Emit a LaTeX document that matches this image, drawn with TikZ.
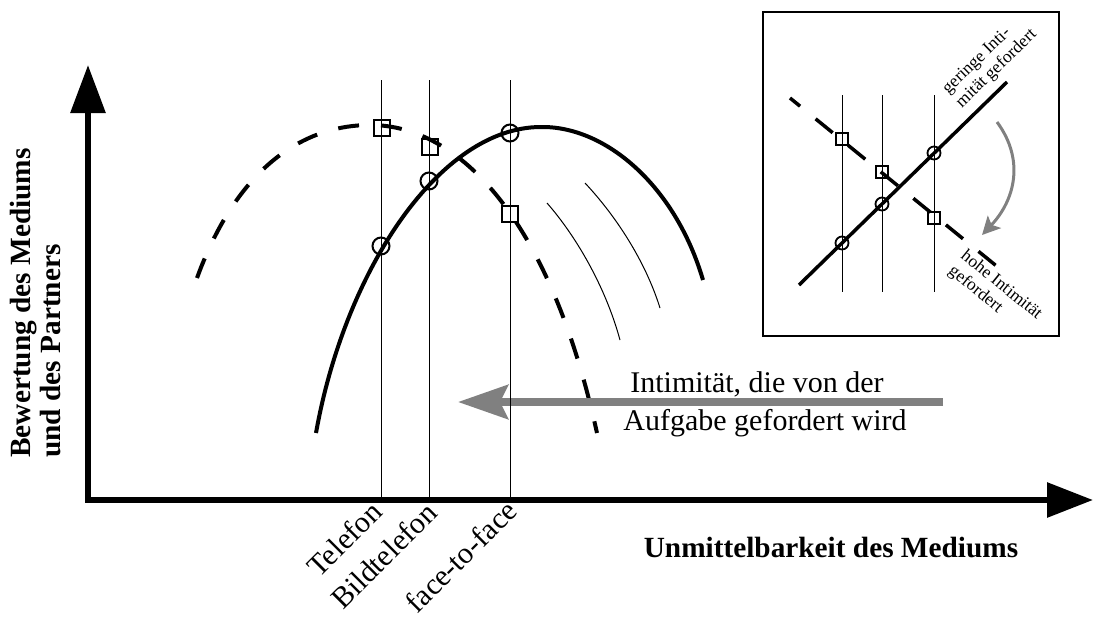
\documentclass[tikz,border=0pt]{standalone}
\usepackage{fontspec}
\setmainfont{Liberation Serif}
\usetikzlibrary{arrows.meta}
\definecolor{arrgray}{RGB}{128,128,128}
\begin{document}
\begin{tikzpicture}[x=1pt,y=-1pt,
  thickcurve/.style={line width=4pt},
  thinline/.style={line width=0.9pt},
  dashcurve/.style={line width=4pt, dash pattern=on 21pt off 22pt},
  mcircle/.style={circle, draw, line width=2pt, minimum size=17pt, inner sep=0pt},
  msquare/.style={rectangle, draw, line width=2.5pt, minimum size=16pt, inner sep=0pt},
  icircle/.style={circle, draw, line width=1.8pt, minimum size=13pt, inner sep=0pt},
  isquare/.style={rectangle, draw, line width=2pt, minimum size=12pt, inner sep=0pt},
  bigtext/.style={font=\fontsize{30}{38}\selectfont, inner sep=0pt},
  boldtext/.style={font=\fontsize{29.3}{30}\selectfont\bfseries, inner sep=0pt},
  ticklabel/.style={font=\fontsize{30}{32}\selectfont, inner sep=0pt, rotate=45, anchor=base east},
  smalltext/.style={font=\fontsize{17.5}{19.5}\selectfont, inner sep=0pt, align=left}
]
\useasboundingbox (0,0) rectangle (1095,619);

% axes
\coordinate (ytip) at (88,65);
\coordinate (origin) at (88,500);
\coordinate (xtip) at (1093,500);
\draw[line width=6pt, miter limit=10,
  {Triangle[length=48pt,width=34pt]}-{Triangle[length=46pt,width=34pt]}]
  (ytip) -- (origin) -- (xtip);

% dashed curve
\coordinate (dA) at (197,278);
\coordinate (dP) at (370,125);
\coordinate (dB) at (597,433);
\draw[dashcurve] (dA) .. controls (240,160) and (310,125) .. (dP)
  .. controls (460,125) and (550,220) .. (dB);

% solid curve
\coordinate (sA) at (316,433);
\coordinate (sP) at (541,127);
\coordinate (sB) at (703,280);
\draw[thickcurve] (sA) .. controls (345,270) and (440,127) .. (sP)
  .. controls (605,126) and (675,185) .. (sB);

% thin curves
\coordinate (tA1) at (547,203); \coordinate (tB1) at (620,340);
\coordinate (tA2) at (585,183); \coordinate (tB2) at (660,308);
\draw[line width=1pt] (tA1) .. controls (575,235) and (605,285) .. (tB1);
\draw[line width=1pt] (tA2) .. controls (615,215) and (645,260) .. (tB2);

% gray arrow
\coordinate (gstart) at (943,402);
\coordinate (gend) at (458,402);
\draw[line width=8pt, arrgray, -{Stealth[length=50pt,width=34pt,inset=8pt]}] (gstart) -- (gend);

% vertical lines
\coordinate (t1) at (381,80); \coordinate (b1) at (381,500);
\coordinate (t2) at (429,80); \coordinate (b2) at (429,500);
\coordinate (t3) at (510,80); \coordinate (b3) at (510,500);
\draw[thinline] (t1) -- (b1);
\draw[thinline] (t2) -- (b2);
\draw[thinline] (t3) -- (b3);

% markers
\node[mcircle] (c1) at (381,246) {};
\node[mcircle] (c2) at (429,181) {};
\node[mcircle] (c3) at (510,133) {};
\node[msquare] (s1) at (382,128) {};
\node[msquare] (s2) at (430,147) {};
\node[msquare] (s3) at (510,214) {};

% labels
\node[ticklabel] (lt) at (384,514) {Telefon};
\node[ticklabel] (lb) at (439,515) {Bildtelefon};
\node[ticklabel] (lf) at (519,513) {face-to-face};
\node[boldtext, anchor=base] (xl) at (831,557) {Unmittelbarkeit des Mediums};
\node[boldtext, rotate=90, align=left] (yl) at (36,303) {Bewertung des Mediums\\und des Partners};
\node[bigtext, anchor=base] (i1) at (757,392) {Intimität, die von der};
\node[bigtext, anchor=base] (i2) at (765,430) {Aufgabe gefordert wird};

% inset
\draw[line width=1.5pt] (763,12) rectangle (1059,336);
\coordinate (it1) at (842,95); \coordinate (ib1) at (842,292);
\coordinate (it2) at (882,95); \coordinate (ib2) at (882,292);
\coordinate (it3) at (934,95); \coordinate (ib3) at (934,292);
\draw[thinline] (it1) -- (ib1);
\draw[thinline] (it2) -- (ib2);
\draw[thinline] (it3) -- (ib3);
\coordinate (sl1) at (799,285); \coordinate (sl2) at (1007,82);
\draw[line width=3.5pt] (sl1) -- (sl2);
\coordinate (dl1) at (790,98); \coordinate (dl2) at (1010,277);
\draw[line width=3.5pt, dash pattern=on 22pt off 20pt, dash phase=9pt] (dl1) -- (dl2);
\node[icircle] (ic1) at (842,243) {};
\node[icircle] (ic2) at (882,204) {};
\node[icircle] (ic3) at (934,153) {};
\node[isquare] (is1) at (842,139) {};
\node[isquare] (is2) at (882,172) {};
\node[isquare] (is3) at (934,218) {};
\coordinate (ga) at (997,122); \coordinate (gb) at (982,235);
\draw[line width=3pt, arrgray, -{Stealth[length=18pt,width=18pt,inset=4pt]}]
  (ga) .. controls (1025,160) and (1015,200) .. (gb);
\node[smalltext, rotate=44] (gt) at (990,62) {geringe Inti-\\mität gefordert};
\node[smalltext, rotate=-39] (ht) at (995,293) {hohe Intimität\\gefordert};
\end{tikzpicture}
\end{document}
